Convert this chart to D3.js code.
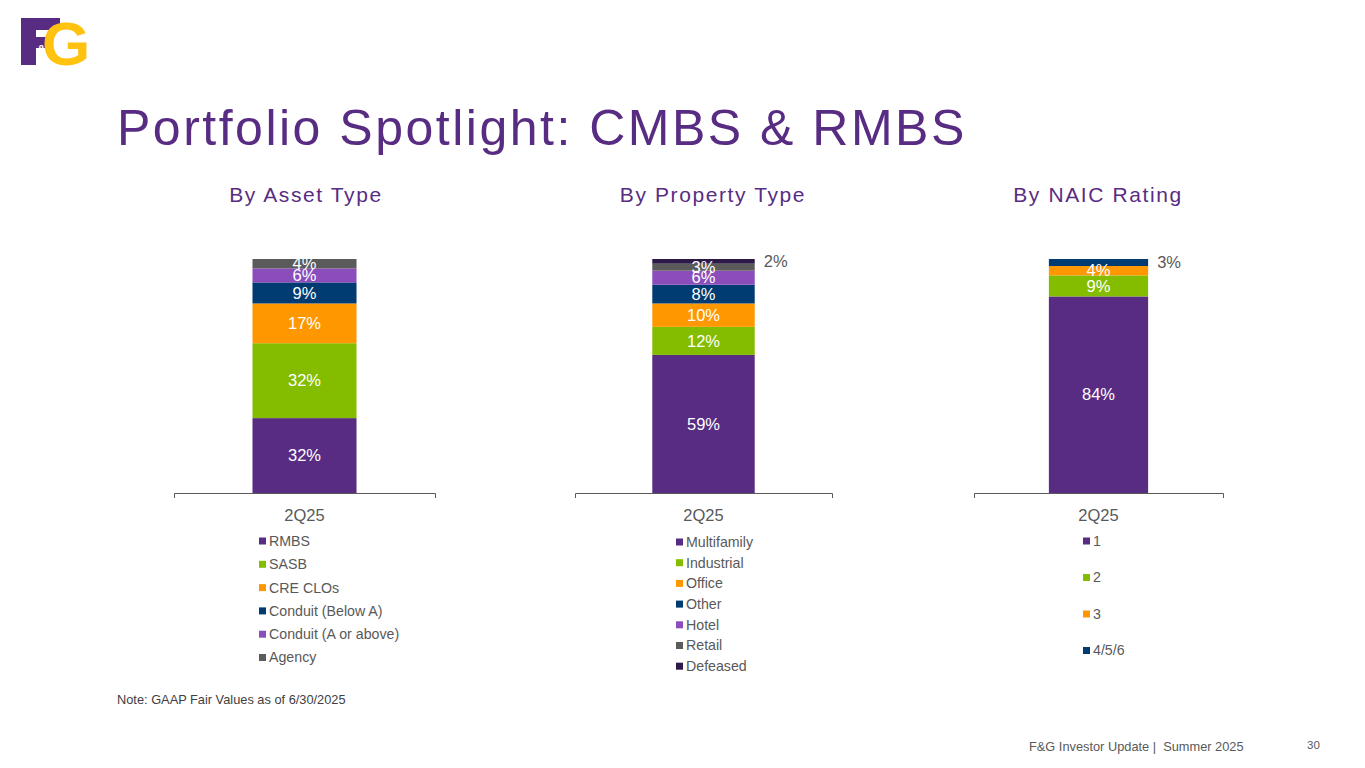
<!DOCTYPE html>
<html lang="en">
<head>
  <meta charset="UTF-8">
  <title>Portfolio Spotlight: CMBS & RMBS</title>
  <style>
    body { margin: 0; background: #fff; }
    svg { display: block; font-family: "Liberation Sans", Arial, sans-serif; }
    text { white-space: pre; }
  </style>
</head>
<body>
  <svg width="1365" height="768"></svg>
  <script src="https://cdn.jsdelivr.net/npm/d3@7"></script>
  <script>
    var period = ['2Q25']

    var assetTypes = ['RMBS', 'SASB', 'CRE CLOs', 'Conduit (Below A)', 'Conduit (A or above)', 'Agency']
    var assetValues = [32, 32, 17, 9, 6, 4]

    var propertyTypes = ['Multifamily', 'Industrial', 'Office', 'Other', 'Hotel', 'Retail', 'Defeased']
    var propertyValues = [59, 12, 10, 8, 6, 3, 2]

    var naicRatings = ['1', '2', '3', '4/5/6']
    var naicValues = [84, 9, 4, 3]

    var purple = '#582C83'
    var colors = ['#582C83', '#84BD00', '#FF9800', '#003B71', '#8A4DBB', '#5B5B5B', '#2D1A47']
    var grey = '#595959'

    var svg = d3.select('svg')

    // logo
    var logo = svg.append('g')
    logo.append('path')
      .attr('d', 'M21,18H60V30H36V37H53V48H36V65H21Z')
      .attr('fill', purple)
    logo.append('text')
      .attr('x', 42).attr('y', 65)
      .attr('font-size', 62).attr('font-weight', 'bold')
      .attr('fill', '#FFC20E')
      .text('G')
    logo.append('text')
      .attr('x', 37).attr('y', 54)
      .attr('font-size', 12).attr('font-weight', 'bold')
      .attr('fill', '#fff')
      .text('&')

    // title
    svg.append('text')
      .attr('x', 117).attr('y', 145)
      .attr('font-size', 50)
      .attr('letter-spacing', 2.5)
      .attr('fill', purple)
      .text('Portfolio Spotlight: CMBS & RMBS')

    var y = d3.scaleLinear().domain([0, 100]).range([493, 259])

    var panels = [
      { title: 'By Asset Type', cx: 306, names: assetTypes, values: assetValues,
        range: [174, 435], legendX: 259, legendY: 541, legendStep: 23.3, outside: [] },
      { title: 'By Property Type', cx: 713, names: propertyTypes, values: propertyValues,
        range: [575, 832], legendX: 676, legendY: 542, legendStep: 20.7, outside: [6] },
      { title: 'By NAIC Rating', cx: 1098, names: naicRatings, values: naicValues,
        range: [974, 1223], legendX: 1083, legendY: 541, legendStep: 36.5, outside: [3] }
    ]

    panels.forEach(function(p) {
      var g = svg.append('g')

      g.append('text')
        .attr('x', p.cx).attr('y', 202)
        .attr('text-anchor', 'middle')
        .attr('font-size', 21)
        .attr('letter-spacing', 1.6)
        .attr('fill', purple)
        .text(p.title)

      var x = d3.scaleBand().domain(period).range(p.range).padding(0.43)

      // stack the values
      var stack = []
      var acc = 0
      p.values.forEach(function(v, i) {
        stack.push({ name: p.names[i], value: v, y0: acc, y1: acc + v, i: i })
        acc += v
      })

      g.selectAll('rect.seg')
        .data(stack)
        .enter()
        .append('rect')
        .attr('class', 'seg')
        .attr('x', x('2Q25'))
        .attr('width', x.bandwidth())
        .attr('y', function(d) { return y(d.y1) })
        .attr('height', function(d) { return y(d.y0) - y(d.y1) })
        .attr('fill', function(d) { return colors[d.i] })

      // data labels
      g.selectAll('text.lbl')
        .data(stack)
        .enter()
        .append('text')
        .attr('class', 'lbl')
        .attr('x', function(d) {
          return p.outside.indexOf(d.i) >= 0 ? x('2Q25') + x.bandwidth() + 9 : x('2Q25') + x.bandwidth() / 2
        })
        .attr('y', function(d) { return (y(d.y0) + y(d.y1)) / 2 })
        .attr('dy', '0.35em')
        .attr('text-anchor', function(d) { return p.outside.indexOf(d.i) >= 0 ? 'start' : 'middle' })
        .attr('font-size', 16.5)
        .attr('fill', function(d) { return p.outside.indexOf(d.i) >= 0 ? grey : '#fff' })
        .text(function(d) { return d.value + '%' })

      // axis
      var axis = g.append('g')
        .attr('transform', 'translate(0,493)')
        .call(d3.axisBottom(x).tickSizeInner(0).tickSizeOuter(5).tickPadding(16))
      axis.select('.domain').attr('stroke', grey)
      axis.selectAll('text')
        .attr('font-size', 16.5)
        .attr('font-family', '"Liberation Sans", Arial, sans-serif')
        .attr('fill', grey)

      // legend
      var leg = g.selectAll('g.leg')
        .data(p.names)
        .enter()
        .append('g')
        .attr('class', 'leg')
        .attr('transform', function(d, i) {
          return 'translate(' + p.legendX + ',' + (p.legendY + i * p.legendStep) + ')'
        })
      leg.append('rect')
        .attr('x', 0).attr('y', -3.5)
        .attr('width', 7).attr('height', 7)
        .attr('fill', function(d, i) { return colors[i] })
      leg.append('text')
        .attr('x', 10).attr('dy', '0.35em')
        .attr('font-size', 14.2)
        .attr('fill', grey)
        .text(function(d) { return d })
    })

    svg.append('text')
      .attr('x', 117).attr('y', 704)
      .attr('font-size', 12.8)
      .attr('fill', '#404040')
      .text('Note: GAAP Fair Values as of 6/30/2025')

    svg.append('text')
      .attr('x', 1029).attr('y', 751)
      .attr('font-size', 12.8)
      .attr('fill', grey)
      .text('F&G Investor Update |  Summer 2025')

    svg.append('text')
      .attr('x', 1307).attr('y', 749)
      .attr('font-size', 11.5)
      .attr('fill', grey)
      .text('30')
  </script>
</body>
</html>
